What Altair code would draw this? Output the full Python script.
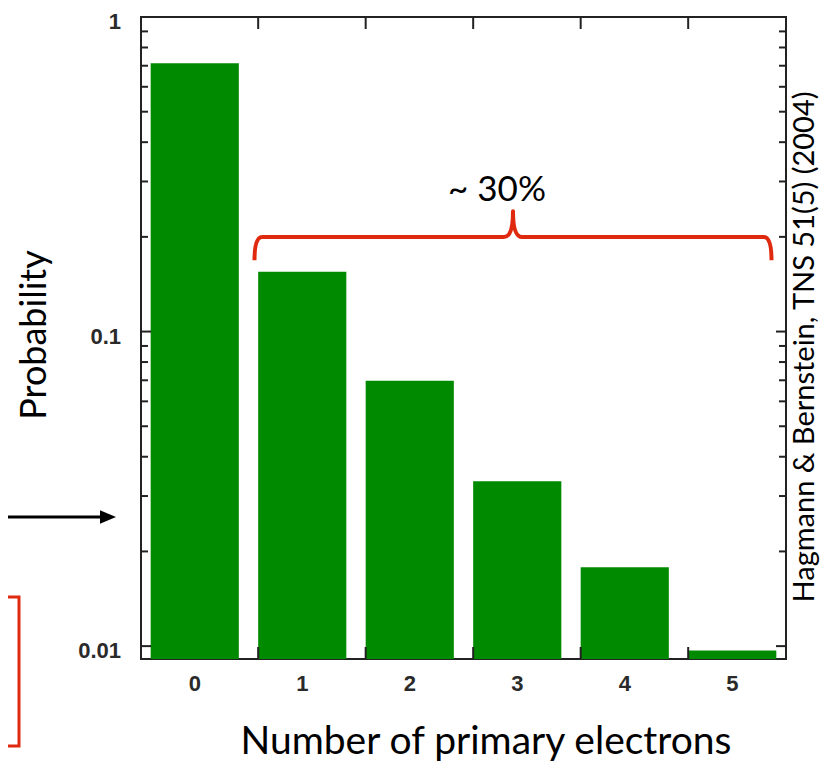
import altair as alt
import pandas as pd

# ---- data ----
electrons = ["0", "1", "2", "3", "4", "5"]
probability = [0.713, 0.155, 0.0698, 0.0334, 0.0178, 0.00968]
y_major = [1.0, 0.1, 0.01]
y_major_labels = ["1", "0.1", "0.01"]
y_minor = [0.9, 0.8, 0.7, 0.6, 0.5, 0.4, 0.3, 0.2,
           0.09, 0.08, 0.07, 0.06, 0.05, 0.04, 0.03, 0.02]
x_bounds = ["1", "2", "3", "4", "5"]
y_domain = [0.0091, 1.0]

W, H = 645, 642
GREEN = "#008a00"
RED = "#e02a10"
TXT = "Lato"
LBL = "Liberation Sans"

bars_df = pd.DataFrame({"n": electrons, "p": probability})
major_df = pd.DataFrame({"v": y_major, "lab": y_major_labels})
minor_df = pd.DataFrame({"v": y_minor})
bound_df = pd.DataFrame({"b": x_bounds})
one = pd.DataFrame({"k": [0]})

xscale = alt.Scale(domain=electrons, paddingInner=0.18, paddingOuter=0.09)
yscale = alt.Scale(type="log", domain=y_domain, nice=False)

bars = alt.Chart(bars_df).mark_bar(color=GREEN).encode(
    x=alt.X("n:N", scale=xscale, sort=electrons, axis=None),
    y=alt.Y("p:Q", scale=yscale, axis=None),
    y2=alt.datum(y_domain[0]),
)

x_labels = alt.Chart(bars_df).mark_text(
    font=LBL, fontWeight="bold", fontSize=22, color="#2a2a2a",
    align="center", baseline="middle").encode(
    x=alt.X("n:N", scale=xscale, axis=None),
    y=alt.value(H + 25), text="n:N")

y_labels = alt.Chart(major_df).mark_text(
    font=LBL, fontWeight="bold", fontSize=22, color="#2a2a2a",
    align="right", baseline="middle", dy=5).encode(
    y=alt.Y("v:Q", scale=yscale, axis=None),
    x=alt.value(-20), text="lab:N")

def yticks(df, x0, x1):
    return alt.Chart(df).mark_rule(color="#222", strokeWidth=2).encode(
        y=alt.Y("v:Q", scale=yscale, axis=None),
        x=alt.value(x0), x2=alt.value(x1))

def xticks(y0, y1):
    return alt.Chart(bound_df).mark_rule(color="#222", strokeWidth=2).encode(
        x=alt.X("b:N", scale=xscale, bandPosition=0, axis=None),
        y=alt.value(y0), y2=alt.value(y1))

ticks = [
    yticks(major_df, 0, 10), yticks(minor_df, 0, 7),
    yticks(major_df, W, W - 10), yticks(minor_df, W, W - 7),
    xticks(H, H - 12), xticks(0, 12),
]

def text(t, x, y, size, angle=0, color="black", font=TXT):
    return alt.Chart(one).mark_text(
        text=t, fontSize=size, font=font, color=color, angle=angle,
        align="center", baseline="middle").encode(x=alt.value(x), y=alt.value(y))

titles = [
    text("Probability", -106, 318, 36, angle=270),
    text("Number of primary electrons", 345, 725, 39),
    text("Hagmann & Bernstein, TNS 51(5)  (2004)", 664, 330, 29, angle=270),
    text("~ 30%", 356, 173, 35),
]

brace_path = ("M-1,0.09 Q-1,0 -0.97,0 L-0.035,0 Q0,0 0,-0.1 "
              "Q0,0 0.035,0 L0.97,0 Q1,0 1,0.09")
brace = alt.Chart(one).mark_point(
    shape=brace_path, filled=False, stroke=RED, strokeWidth=4, opacity=1,
    strokeJoin="round", strokeCap="butt").encode(
    x=alt.value(372), y=alt.value(220), size=alt.value(517 ** 2))

arrow_line = alt.Chart(one).mark_rule(color="black", strokeWidth=3).encode(
    x=alt.value(-141), x2=alt.value(-38), y=alt.value(500))
arrow_head = alt.Chart(one).mark_point(
    shape="M-1,-0.85L1,0L-1,0.85Z", filled=True, color="black", opacity=1).encode(
    x=alt.value(-33), y=alt.value(500), size=alt.value(256))

red_box = alt.Chart(one).mark_rect(filled=False, stroke=RED, strokeWidth=3).encode(
    x=alt.value(-300), x2=alt.value(-122), y=alt.value(580), y2=alt.value(729))

chart = alt.layer(bars, x_labels, y_labels, *ticks, *titles, brace,
                  arrow_line, arrow_head, red_box).properties(
    width=W, height=H,
    padding={"left": 133, "top": 9, "right": 43, "bottom": 102},
    autosize=alt.AutoSizeParams(type="none"),
).configure_view(stroke="#222", strokeWidth=2)

chart.save("out.html", embed_options={"renderer": "svg", "actions": False})
